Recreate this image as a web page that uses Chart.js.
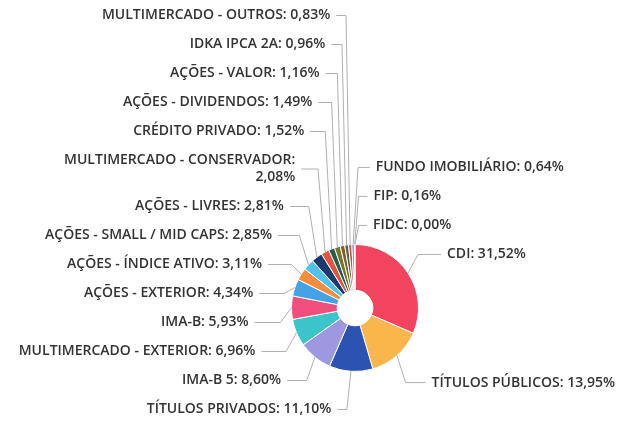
<!DOCTYPE html>
<html>
<head>
<meta charset="utf-8">
<script src="https://cdn.jsdelivr.net/npm/chart.js@4.4.1/dist/chart.umd.min.js"></script>
<style>
  html, body { margin: 0; padding: 0; background: #fff; }
  canvas { display: block; }
</style>
</head>
<body>
<canvas id="carteira" width="622" height="424"></canvas>
<script>
// categorias e percentuais
const categorias = [
  "CDI", "TÍTULOS PÚBLICOS", "TÍTULOS PRIVADOS", "IMA-B 5", "MULTIMERCADO - EXTERIOR",
  "IMA-B", "AÇÕES - EXTERIOR", "AÇÕES - ÍNDICE ATIVO", "AÇÕES - SMALL / MID CAPS",
  "AÇÕES - LIVRES", "MULTIMERCADO - CONSERVADOR", "CRÉDITO PRIVADO", "AÇÕES - DIVIDENDOS",
  "AÇÕES - VALOR", "IDKA IPCA 2A", "MULTIMERCADO - OUTROS", "FUNDO IMOBILIÁRIO", "FIP", "FIDC"
];
const percentuais = [
  31.52, 13.95, 11.10, 8.60, 6.96,
  5.93, 4.34, 3.11, 2.85,
  2.81, 2.08, 1.52, 1.49,
  1.16, 0.96, 0.83, 0.64, 0.16, 0.00
];
const cores = [
  "#f2445e", "#f8b64b", "#2b53b2", "#9d98e0", "#3bc4c9",
  "#f14f7b", "#45a3e5", "#f68d3c", "#52c2ec",
  "#1d3a70", "#e4533f", "#2f5a4a", "#6b7a2c",
  "#8b5a2b", "#4b6b3a", "#c4504a", "#8f84db", "#3a8a6a", "#999999"
];

const fonteRotulo = '600 14px "Open Sans"';
const larguraMaxRotulo = 250;

function formatar(v) {
  return v.toFixed(2).replace('.', ',') + '%';
}

// quebra o texto em linhas que caibam na largura máxima
function quebrarTexto(ctx, texto, maxLarg) {
  const palavras = texto.split(' ');
  const linhas = [];
  let atual = '';
  palavras.forEach(p => {
    const teste = atual ? atual + ' ' + p : p;
    if (atual && ctx.measureText(teste).width > maxLarg) {
      linhas.push(atual);
      atual = p;
    } else {
      atual = teste;
    }
  });
  if (atual) linhas.push(atual);
  return linhas;
}

// distribui caixas verticalmente juntando grupos que se sobrepõem
// (fatias maiores pesam mais e ficam perto da posição natural)
function distribuir(itens, topo, base) {
  let grupos = itens.map(it => ({ itens: [it] }));
  const posicionar = (g) => {
    let off = 0, soma = 0, pesos = 0;
    g.itens.forEach(it => {
      it.off = off;
      soma += it.peso * (it.alvo - off - it.h / 2);
      pesos += it.peso;
      off += it.h;
    });
    g.altura = off;
    g.topo = Math.min(Math.max(soma / pesos, topo), base - g.altura);
  };
  grupos.forEach(posicionar);
  let mudou = true;
  while (mudou) {
    mudou = false;
    for (let i = 0; i < grupos.length - 1; i++) {
      if (grupos[i].topo + grupos[i].altura > grupos[i + 1].topo + 0.01) {
        const g = { itens: grupos[i].itens.concat(grupos[i + 1].itens) };
        posicionar(g);
        grupos.splice(i, 2, g);
        mudou = true;
        break;
      }
    }
  }
  grupos.forEach(g => g.itens.forEach(it => { it.y = g.topo + it.off + it.h / 2; }));
}

const rotulosPlugin = {
  id: 'rotulos',
  afterDatasetsDraw(chart) {
    const ctx = chart.ctx;
    const arcos = chart.getDatasetMeta(0).data;
    ctx.save();
    ctx.font = fonteRotulo;
    const direita = [], esquerda = [];
    arcos.forEach((arco, i) => {
      const p = arco.getProps(['x', 'y', 'startAngle', 'endAngle', 'outerRadius'], true);
      const meio = (p.startAngle + p.endAngle) / 2;
      let theta = meio + Math.PI / 2;
      theta = Math.atan2(Math.sin(theta), Math.cos(theta));
      const rl = p.outerRadius + 36;
      const texto = categorias[i] + ': ' + formatar(percentuais[i]);
      const linhas = quebrarTexto(ctx, texto, larguraMaxRotulo);
      const item = {
        i, theta, linhas,
        cx: p.x, cy: p.y,
        px: p.x + Math.cos(meio) * p.outerRadius,
        py: p.y + Math.sin(meio) * p.outerRadius,
        alvo: p.y - rl * Math.cos(theta),
        peso: percentuais[i] + 0.1,
        h: 29 + (linhas.length - 1) * 17
      };
      if (Math.sin(theta) > -0.05) direita.push(item); else esquerda.push(item);
    });
    direita.sort((a, b) => a.theta - b.theta);
    esquerda.sort((a, b) => b.theta - a.theta);
    distribuir(direita, 0, chart.height);
    distribuir(esquerda, 0, chart.height);

    const desenhar = (item, lado) => {
      const dx = Math.abs(item.px - item.cx) + 18 + 25 * Math.abs(Math.sin(item.theta));
      const lx = item.cx + lado * dx;
      // conector: trecho horizontal e depois até a borda da fatia
      const inicio = lado > 0 ? lx - 6 : lx + 6;
      const dobra = inicio + 0.7 * (item.px - inicio);
      ctx.strokeStyle = '#b0b0b0';
      ctx.lineWidth = 1;
      ctx.beginPath();
      ctx.moveTo(inicio, item.y);
      ctx.lineTo(dobra, item.y);
      ctx.lineTo(item.px, item.py);
      ctx.stroke();
      // texto
      ctx.fillStyle = '#333333';
      ctx.textAlign = lado > 0 ? 'left' : 'right';
      ctx.textBaseline = 'middle';
      const n = item.linhas.length;
      item.linhas.forEach((l, k) => {
        ctx.fillText(l, lx, item.y + (k - (n - 1) / 2) * 17);
      });
    };
    direita.forEach(it => desenhar(it, 1));
    esquerda.forEach(it => desenhar(it, -1));
    ctx.restore();
  }
};

const grafico = new Chart(document.getElementById('carteira'), {
  type: 'doughnut',
  data: {
    labels: categorias,
    datasets: [{
      data: percentuais,
      backgroundColor: cores,
      borderColor: '#ffffff',
      borderWidth: 1
    }]
  },
  options: {
    responsive: false,
    animation: false,
    cutout: '28%',
    layout: { padding: { left: 291, right: 203, top: 244, bottom: 52 } },
    plugins: {
      legend: { display: false },
      tooltip: { enabled: false }
    }
  },
  plugins: [rotulosPlugin]
});
</script>
</body>
</html>
